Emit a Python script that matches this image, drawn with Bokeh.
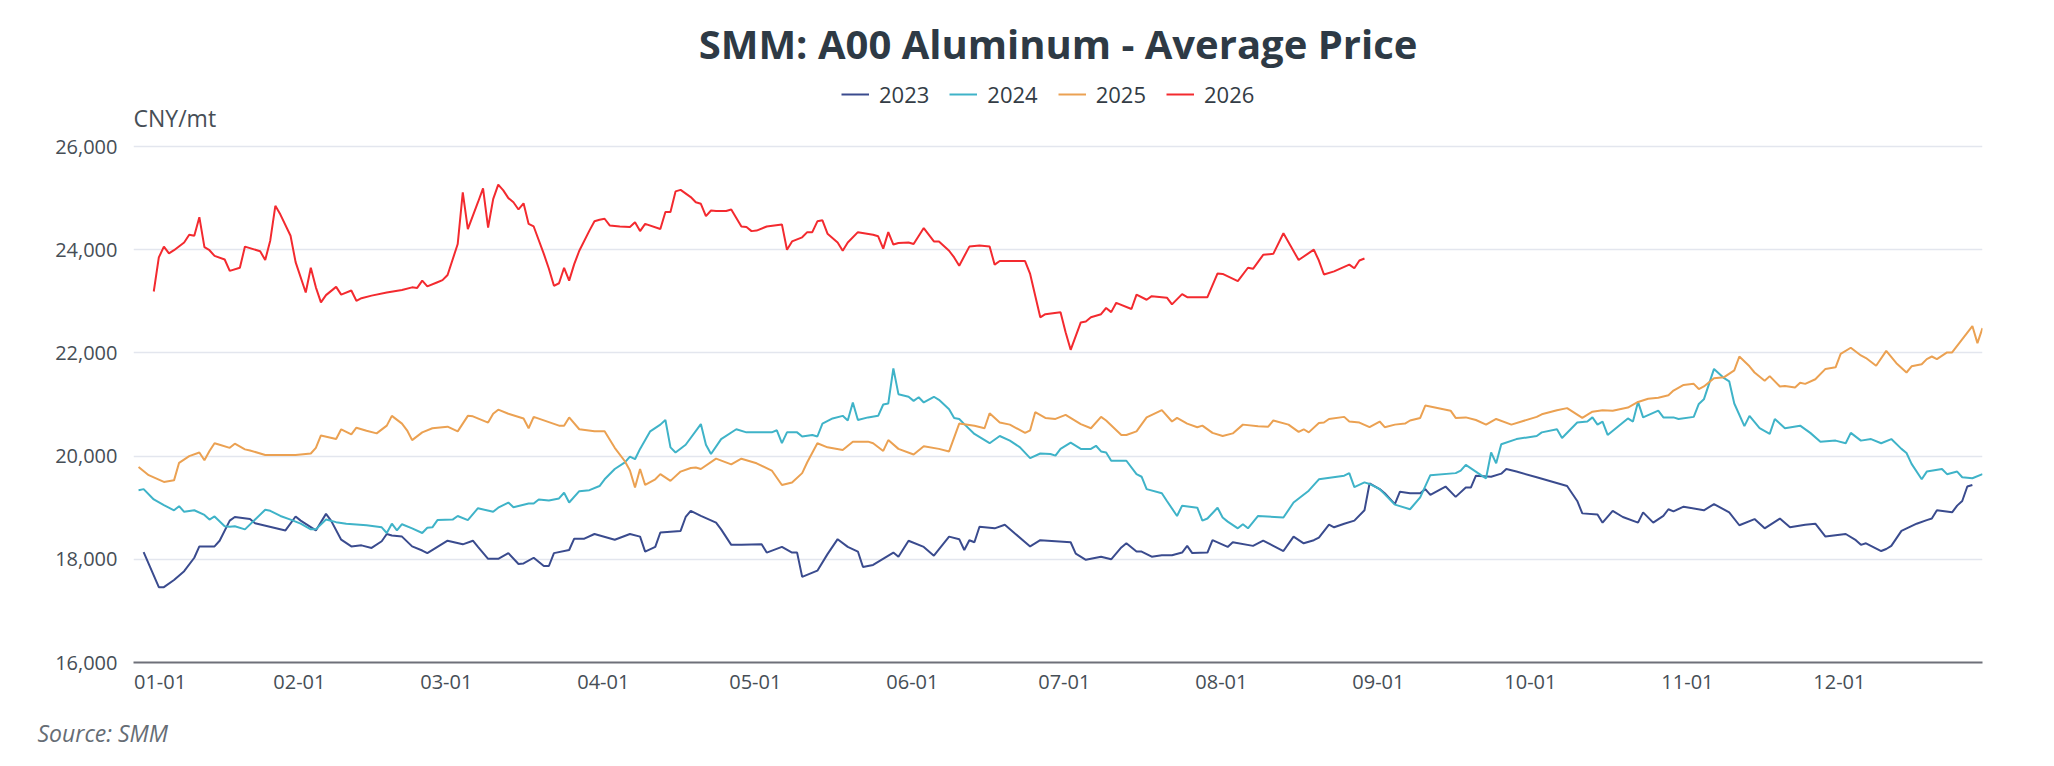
from bokeh.plotting import figure
from bokeh.models import Range1d, Label, Legend, LegendItem, FixedTicker, NumeralTickFormatter, Title
from bokeh.embed import file_html
from bokeh.resources import INLINE

# x = day of year (0 = 01-01, calendar with 02-29), y = CNY/mt
day_2023 = [2, 5, 6, 8, 10, 12, 13, 16, 17, 19, 20, 23, 24, 30, 32, 33, 36, 38, 39, 41, 43, 45, 47, 49, 50, 51, 53, 55, 57, 58,
            62, 65, 67, 68, 70, 72, 74, 76, 77, 79, 81, 82, 83, 86, 87, 89, 91, 95, 98, 100, 101, 103, 104, 108, 109, 110, 112, 115, 116, 118,
            120, 124, 125, 128, 130, 131, 132, 135, 137, 139, 141, 143, 144, 146, 150, 151, 153, 156, 158, 161, 163, 164, 165, 166, 167, 170, 172, 174, 177, 179,
            185, 186, 188, 191, 193, 195, 196, 198, 199, 201, 203, 205, 207, 208, 209, 212, 213, 216, 217, 221, 223, 225, 227, 229, 231, 233, 234, 236, 237, 239,
            241, 243, 244, 246, 247, 249, 250, 252, 254, 255, 256, 259, 261, 263, 264, 265, 268, 270, 271, 273, 277, 283, 285, 286, 289, 290, 292, 294, 297, 298,
            300, 302, 303, 304, 306, 310, 312, 315, 317, 320, 322, 325, 327, 330, 332, 334, 338, 340, 341, 342, 345, 346, 347, 349, 352, 354, 355, 356, 359, 360,
            361, 362, 363]
price_2023 = [18140, 17460, 17460, 17600, 17770, 18030, 18250, 18250, 18360, 18750, 18820, 18780, 18700, 18560, 18830, 18750, 18560, 18880, 18750, 18380, 18250, 18270, 18220, 18350, 18490, 18460, 18440, 18250, 18170, 18120,
              18360, 18290, 18360, 18240, 18010, 18010, 18120, 17910, 17920, 18030, 17870, 17870, 18120, 18180, 18400, 18400, 18490, 18380, 18490, 18440, 18150, 18240, 18520, 18550, 18820, 18940, 18840, 18710, 18580, 18280,
              18280, 18290, 18130, 18240, 18130, 18130, 17660, 17780, 18100, 18390, 18240, 18150, 17850, 17890, 18130, 18050, 18360, 18240, 18070, 18440, 18390, 18180, 18370, 18330, 18630, 18600, 18670, 18500, 18250, 18370,
              18330, 18110, 17990, 18050, 18000, 18230, 18310, 18150, 18150, 18050, 18080, 18080, 18130, 18260, 18120, 18130, 18370, 18240, 18330, 18260, 18360, 18260, 18160, 18440, 18310, 18370, 18420, 18670, 18620, 18690,
              18750, 18950, 19470, 19360, 19280, 19070, 19310, 19280, 19280, 19360, 19250, 19410, 19210, 19390, 19390, 19620, 19600, 19660, 19750, 19700, 19590, 19420, 19130, 18890, 18870, 18710, 18940, 18820, 18710, 18910,
              18710, 18840, 18970, 18930, 19020, 18950, 19070, 18910, 18660, 18780, 18600, 18790, 18620, 18670, 18690, 18440, 18490, 18370, 18280, 18310, 18160, 18200, 18260, 18550, 18690, 18760, 18790, 18950, 18910, 19040,
              19130, 19410, 19440]

day_2024 = [1, 2, 4, 6, 8, 9, 10, 12, 14, 15, 16, 18, 19, 20, 22, 26, 27, 29, 31, 33, 35, 36, 38, 40, 42, 46, 49, 50, 51, 52,
            53, 55, 57, 58, 59, 60, 63, 64, 66, 68, 71, 72, 74, 75, 78, 79, 80, 82, 84, 85, 86, 88, 90, 92, 93, 95, 97, 98, 99, 100,
            102, 104, 105, 106, 107, 109, 112, 113, 114, 116, 119, 121, 126, 127, 128, 129, 131, 132, 134, 135, 136, 138, 140, 141, 142, 143, 145, 147, 148, 149,
            150, 151, 153, 154, 155, 156, 158, 159, 161, 162, 163, 164, 166, 169, 171, 173, 175, 177, 179, 181, 182, 183, 185, 187, 189, 190, 191, 192, 193, 196,
            198, 199, 200, 203, 204, 206, 207, 210, 211, 212, 214, 215, 216, 218, 219, 220, 222, 227, 229, 232, 234, 239, 240, 241, 243, 244, 246, 249, 252, 254,
            256, 261, 262, 263, 266, 267, 268, 269, 270, 273, 277, 278, 281, 282, 285, 287, 288, 289, 290, 291, 293, 295, 296, 297, 298, 301, 302, 304, 305, 308,
            309, 310, 312, 314, 315, 316, 318, 319, 321, 323, 324, 326, 329, 331, 333, 336, 338, 339, 341, 343, 345, 347, 349, 350, 351, 353, 354, 357, 358, 360,
            361, 363, 365]
price_2024 = [19340, 19360, 19160, 19050, 18950, 19030, 18920, 18950, 18860, 18770, 18830, 18640, 18630, 18640, 18580, 18960, 18940, 18840, 18770, 18690, 18580, 18580, 18770, 18720, 18690, 18660, 18620, 18510, 18690, 18560,
              18680, 18600, 18510, 18610, 18620, 18760, 18770, 18840, 18760, 18990, 18920, 19000, 19100, 19010, 19080, 19080, 19160, 19140, 19180, 19290, 19100, 19320, 19340, 19420, 19550, 19750, 19880, 19990, 19940, 20140,
              20480, 20610, 20700, 20170, 20070, 20220, 20620, 20220, 20040, 20330, 20520, 20460, 20460, 20500, 20250, 20460, 20460, 20380, 20410, 20380, 20630, 20730, 20780, 20690, 21040, 20700, 20750, 20780, 21000, 21020,
              21700, 21200, 21150, 21070, 21140, 21040, 21150, 21090, 20910, 20740, 20720, 20620, 20430, 20250, 20390, 20300, 20170, 19960, 20050, 20040, 20010, 20140, 20260, 20140, 20140, 20200, 20090, 20070, 19910, 19910,
              19650, 19600, 19360, 19280, 19130, 18840, 19040, 19000, 18750, 18790, 19000, 18810, 18730, 18600, 18680, 18600, 18840, 18810, 19100, 19330, 19550, 19620, 19670, 19400, 19490, 19460, 19360, 19060, 18970, 19200,
              19630, 19670, 19720, 19830, 19630, 19570, 20070, 19860, 20230, 20330, 20390, 20460, 20520, 20350, 20650, 20670, 20750, 20610, 20670, 20410, 20570, 20730, 20670, 21050, 20750, 20880, 20750, 20750, 20720, 20760,
              21010, 21100, 21690, 21510, 21450, 21020, 20580, 20780, 20540, 20430, 20720, 20540, 20590, 20450, 20280, 20300, 20250, 20450, 20300, 20330, 20250, 20330, 20140, 20060, 19850, 19550, 19700, 19750, 19650, 19700,
              19590, 19570, 19650]

day_2025 = [1, 3, 6, 8, 9, 11, 13, 14, 15, 16, 17, 19, 20, 22, 23, 26, 32, 35, 36, 37, 40, 41, 43, 44, 46, 48, 50, 51, 53, 54,
            55, 57, 59, 62, 64, 66, 67, 70, 71, 72, 74, 77, 78, 79, 84, 85, 86, 88, 91, 93, 95, 97, 98, 99, 100, 101, 103, 104, 106, 108,
            110, 111, 112, 115, 118, 120, 123, 126, 128, 130, 132, 133, 135, 137, 140, 142, 145, 146, 148, 149, 151, 154, 156, 159, 161, 163, 166, 168, 169, 171,
            173, 176, 177, 178, 180, 182, 184, 187, 189, 191, 192, 195, 196, 198, 200, 203, 205, 206, 208, 210, 211, 213, 215, 217, 219, 222, 224, 225, 228, 230,
            231, 232, 234, 235, 236, 239, 240, 242, 244, 246, 247, 249, 251, 252, 254, 255, 260, 261, 263, 265, 267, 269, 272, 277, 278, 281, 283, 286, 288, 290,
            292, 295, 297, 299, 301, 303, 304, 306, 308, 309, 310, 312, 314, 316, 317, 319, 320, 322, 323, 325, 326, 328, 329, 330, 332, 334, 336, 337, 339, 341,
            342, 344, 346, 348, 350, 351, 353, 354, 355, 356, 358, 359, 363, 364, 365]
price_2025 = [19790, 19630, 19500, 19530, 19870, 20000, 20070, 19920, 20100, 20250, 20220, 20160, 20240, 20130, 20110, 20020, 20020, 20050, 20160, 20400, 20330, 20520, 20420, 20550, 20490, 20440, 20590, 20780, 20630, 20500,
              20310, 20460, 20540, 20570, 20480, 20780, 20770, 20650, 20820, 20900, 20820, 20730, 20540, 20760, 20590, 20590, 20750, 20520, 20480, 20480, 20160, 19900, 19720, 19390, 19750, 19440, 19550, 19650, 19520, 19700,
              19770, 19780, 19750, 19950, 19840, 19950, 19860, 19720, 19440, 19490, 19670, 19880, 20250, 20170, 20120, 20280, 20280, 20250, 20100, 20310, 20140, 20030, 20190, 20140, 20090, 20630, 20590, 20540, 20830, 20650,
              20610, 20450, 20500, 20850, 20740, 20720, 20800, 20620, 20540, 20760, 20690, 20410, 20410, 20480, 20750, 20890, 20670, 20740, 20630, 20560, 20590, 20450, 20390, 20440, 20610, 20580, 20570, 20690, 20610, 20470,
              20520, 20460, 20640, 20650, 20720, 20760, 20670, 20650, 20560, 20670, 20560, 20610, 20630, 20690, 20740, 20980, 20880, 20740, 20750, 20700, 20610, 20720, 20610, 20760, 20810, 20890, 20930, 20740, 20860, 20890,
              20880, 20940, 21050, 21110, 21130, 21180, 21270, 21380, 21400, 21300, 21350, 21510, 21530, 21660, 21930, 21740, 21620, 21460, 21550, 21350, 21360, 21330, 21420, 21400, 21490, 21690, 21720, 21980, 22100, 21950,
              21900, 21750, 22040, 21800, 21620, 21740, 21780, 21880, 21930, 21880, 22010, 22010, 22520, 22190, 22480]

day_2026 = [4, 5, 6, 7, 8, 10, 11, 12, 13, 14, 15, 16, 18, 19, 21, 22, 25, 26, 27, 28, 29, 31, 32, 34, 35, 36, 37, 38, 40, 41,
            43, 44, 45, 47, 50, 53, 55, 56, 57, 58, 60, 61, 62, 64, 65, 66, 68, 69, 70, 71, 72, 73, 74, 75, 76, 77, 78, 79, 81, 82,
            83, 84, 85, 86, 87, 88, 90, 91, 92, 93, 94, 96, 98, 99, 100, 101, 104, 105, 106, 107, 108, 110, 111, 112, 113, 114, 115, 117, 118, 120,
            121, 122, 123, 125, 128, 129, 130, 132, 133, 134, 135, 136, 137, 139, 140, 141, 143, 146, 147, 148, 149, 150, 151, 153, 154, 156, 158, 159, 161, 162,
            163, 165, 167, 169, 170, 171, 176, 177, 179, 180, 183, 184, 185, 187, 188, 189, 191, 192, 193, 194, 197, 198, 200, 201, 204, 205, 207, 208, 212, 214,
            215, 218, 220, 221, 223, 225, 227, 230, 233, 234, 235, 237, 240, 241, 242, 243]
price_2026 = [23190, 23850, 24060, 23930, 23990, 24140, 24290, 24270, 24630, 24050, 23990, 23880, 23810, 23590, 23650, 24060, 23970, 23800, 24180, 24850, 24680, 24270, 23760, 23170, 23650, 23270, 22980, 23120, 23280, 23130,
              23210, 23010, 23060, 23110, 23170, 23220, 23270, 23260, 23400, 23290, 23370, 23410, 23510, 24110, 25110, 24400, 24920, 25190, 24430, 24980, 25260, 25150, 25000, 24920, 24780, 24900, 24500, 24450, 23920, 23630,
              23300, 23350, 23650, 23400, 23720, 23980, 24370, 24550, 24580, 24600, 24470, 24450, 24440, 24530, 24360, 24500, 24400, 24730, 24730, 25130, 25160, 25020, 24920, 24890, 24650, 24760, 24750, 24750, 24780, 24450,
              24440, 24360, 24370, 24450, 24490, 24000, 24160, 24240, 24340, 24340, 24550, 24570, 24310, 24140, 23980, 24140, 24340, 24290, 24260, 24020, 24340, 24100, 24130, 24140, 24110, 24420, 24160, 24160, 23980, 23850,
              23690, 24060, 24080, 24060, 23710, 23780, 23780, 23530, 22690, 22750, 22790, 22400, 22060, 22590, 22610, 22690, 22750, 22870, 22790, 22970, 22850, 23130, 23030, 23100, 23070, 22940, 23140, 23080, 23080, 23540,
              23530, 23390, 23650, 23630, 23900, 23920, 24320, 23800, 24000, 23790, 23520, 23580, 23710, 23640, 23790, 23830]

years = ["2023", "2024", "2025", "2026"]
colors = ["#3a4b8e", "#3fb3c8", "#eba152", "#f32a2f"]

month_labels = ["01-01", "02-01", "03-01", "04-01", "05-01", "06-01", "07-01", "08-01", "09-01", "10-01", "11-01", "12-01"]
month_start_day = [0, 31, 60, 91, 121, 152, 182, 213, 244, 274, 305, 335]
y_ticks = [16000, 18000, 20000, 22000, 24000, 26000]

FONT = "Open Sans"
TXT = "#464e56"

# the frame reaches up to the top of the canvas so that the heading texts sit inside it;
# 16,000..26,000 occupies the lower 516 px, as in the reference
FRAME_H = 662
Y_TOP = 16000 + 10000 * FRAME_H / 516

p = figure(frame_width=1849, frame_height=FRAME_H,
           x_range=Range1d(0, 365), y_range=Range1d(16000, Y_TOP),
           output_backend="svg", toolbar_location=None,
           min_border_left=133, min_border_right=56, min_border_top=0, min_border_bottom=88)
p.outline_line_color = None
p.background_fill_color = "#ffffff"
p.border_fill_color = "#ffffff"

series = [(day_2023, price_2023), (day_2024, price_2024), (day_2025, price_2025), (day_2026, price_2026)]
renderers = []
for (dx, py), c in zip(series, colors):
    renderers.append(p.line(dx, py, line_color=c, line_width=2))

# x axis
tick_pos = [d + 1.75 for d in month_start_day]
tick_pos[0] = 5.25
p.xaxis.ticker = FixedTicker(ticks=tick_pos)
p.xaxis.major_label_overrides = {t: lab for t, lab in zip(tick_pos, month_labels)}
p.xaxis.axis_line_color = "#6e7079"
p.xaxis.axis_line_width = 2
p.xaxis.major_tick_line_color = None
p.xaxis.minor_tick_line_color = None
p.xaxis.major_tick_out = 0
p.xaxis.major_tick_in = 0
p.xaxis.major_label_standoff = 12
p.xaxis.major_label_text_font = FONT
p.xaxis.major_label_text_font_size = "20px"
p.xaxis.major_label_text_color = TXT
p.xgrid.grid_line_color = None

# y axis
p.yaxis.ticker = FixedTicker(ticks=y_ticks)
p.yaxis.formatter = NumeralTickFormatter(format="0,0")
p.yaxis.axis_line_color = None
p.yaxis.major_tick_line_color = None
p.yaxis.minor_tick_line_color = None
p.yaxis.major_tick_out = 0
p.yaxis.major_tick_in = 0
p.yaxis.major_label_standoff = 16
p.yaxis.major_label_text_font = FONT
p.yaxis.major_label_text_font_size = "20px"
p.yaxis.major_label_text_color = TXT
p.ygrid.ticker = FixedTicker(ticks=y_ticks)
p.ygrid.grid_line_color = "#e3e6ee"
p.ygrid.grid_line_width = 1.5

# texts (screen units relative to the frame's bottom-left corner)
p.add_layout(Label(x=924.5, y=619, x_units="screen", y_units="screen",
                   text="SMM: A00 Aluminum - Average Price", text_align="center", text_baseline="middle",
                   text_font=FONT, text_font_style="bold", text_font_size="40px", text_color="#2e3a45"))
p.add_layout(Label(x=0, y=545, x_units="screen", y_units="screen", text="CNY/mt",
                   text_align="left", text_baseline="middle", text_font=FONT, text_font_size="23px", text_color=TXT))

legend = Legend(items=[LegendItem(label=y, renderers=[r]) for y, r in zip(years, renderers)],
                location=(708, 553), orientation="horizontal",
                glyph_width=28, glyph_height=22, label_height=22, label_standoff=10, spacing=20,
                padding=0, margin=0, border_line_color=None, background_fill_alpha=0,
                label_text_font=FONT, label_text_font_size="22px", label_text_color="#333c45")
p.add_layout(legend, "center")

p.add_layout(Title(text="Source: SMM", align="left", offset=-96, standoff=46,
                   text_font=FONT, text_font_style="italic", text_font_size="23px", text_color="#666d75"), "below")

open("out.html", "w").write(file_html(p, INLINE))
